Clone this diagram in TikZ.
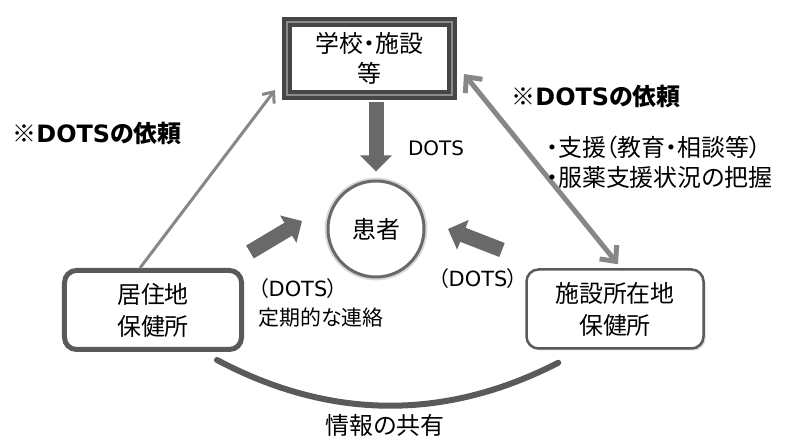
\documentclass[tikz,border=0pt]{standalone}
\usepackage{fontspec}
\setmainfont[RawFeature=+palt]{Noto Sans CJK JP}
\newfontfamily\latfont{DejaVu Sans}
\usetikzlibrary{arrows.meta}
\usetikzlibrary{shadows}
\tikzset{>=latex}
\definecolor{framegray}{RGB}{70,70,70}
\definecolor{framelight}{RGB}{140,140,140}
\definecolor{boxgray}{RGB}{90,90,90}
\definecolor{arrowgray}{RGB}{105,105,105}
\definecolor{linegray}{RGB}{135,135,135}
\newcommand{\DOTS}{{\latfont DOTS}}
\newcommand{\fs}[2]{\fontsize{#1}{#2}\selectfont}
\tikzstyle{schoolbox}=[draw=framegray,line width=4bp,double=framelight,double distance=2.5bp,fill=white,minimum width=165bp,minimum height=73bp,align=center,font=\fs{24}{30}]
\tikzstyle{hcbox}=[draw=boxgray,rounded corners=12bp,fill=white,minimum width=177bp,minimum height=79bp,align=center,font=\fs{24}{32},drop shadow={shadow xshift=2bp,shadow yshift=-2bp,opacity=.3}]
\tikzstyle{patientnode}=[circle,draw=arrowgray,line width=3bp,minimum size=96bp,fill=white,font=\fs{24}{30},drop shadow={shadow xshift=0bp,shadow yshift=0bp,shadow scale=1.07,fill=gray!60,opacity=.5}]
\tikzstyle{fatarrow}=[draw=arrowgray,line width=15bp,-{Triangle[width=31bp,length=16bp]}]
\tikzstyle{thinarrow}=[draw=linegray,line width=3bp,-{Straight Barb[width=15bp,length=9bp]}]
\tikzstyle{bothline}=[draw=linegray,line width=5bp,{Straight Barb[width=22bp,length=12bp]}-{Straight Barb[width=22bp,length=12bp]}]
\tikzstyle{infoline}=[draw=boxgray,line width=6bp,line cap=round]

\begin{document}
\begin{tikzpicture}[x=1bp,y=1bp]
  \useasboundingbox (0,0) rectangle (787,438);

  \node[schoolbox] (school) at (369.5,379.5) {学校・施設\\等};
  \node[patientnode] (patient) at (376,209) {患者};
  \node[hcbox,line width=5bp] (lhc) at (153,128) {居住地\\保健所};
  \node[hcbox,line width=2.5bp] (rhc) at (615,129) {施設所在地\\保健所};

  \coordinate (ltail) at (250,186);
  \coordinate (ltip) at (302,217);
  \coordinate (rtail) at (502,188);
  \coordinate (rtip) at (448,209);

  \draw[fatarrow,shorten <=5bp,shorten >=8bp] (school.south -| patient.north) -- (patient.north);
  \draw[fatarrow] (ltail) -- (ltip);
  \draw[fatarrow] (rtail) -- (rtip);

  \draw[thinarrow] ([xshift=-13bp]lhc.north) -- ([shift={(-10bp,7bp)}]school.south west);
  \draw[bothline] ([shift={(10bp,23bp)}]school.south east) -- ([shift={(3bp,4bp)}]rhc.north);

  \draw[infoline] ([shift={(-27bp,-8bp)}]lhc.south east) .. controls (330,18) and (445,17) .. ([shift={(33bp,-13bp)}]rhc.south west);

  \node[font=\fs{24}{30}\bfseries] (lreq) at (97,305) {※\DOTS の依頼};
  \node[font=\fs{24}{30}\bfseries] (rreq) at (596,342) {※\DOTS の依頼};
  \node[font=\fs{20}{26}] (dotslbl) at (436,290) {\DOTS};
  \node[font=\fs{24}{30},anchor=west,align=left,inner sep=0pt] (support) at (546,276) {・支援（教育・相談等）\\・服薬支援状況の把握};
  \node[font=\fs{21}{29},anchor=west,align=left,inner sep=0pt] (ldots) at (258,135.5) {（\DOTS）\\定期的な連絡};
  \node[font=\fs{21}{26}] (rdots) at (478,159) {（\DOTS）};
  \node[font=\fs{24}{30}] (info) at (385,13) {情報の共有};

\end{tikzpicture}
\end{document}
